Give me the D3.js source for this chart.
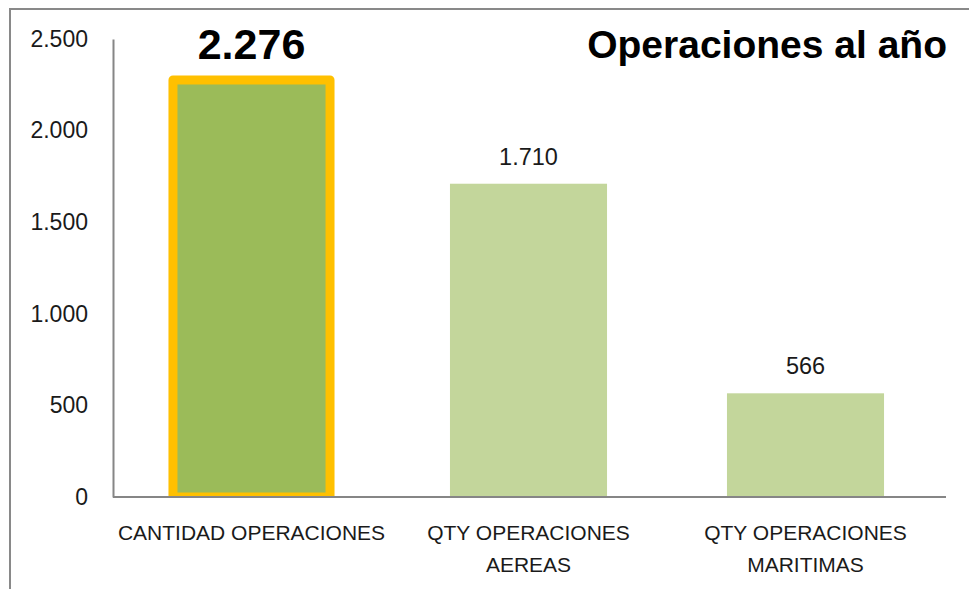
<!DOCTYPE html>
<html>
<head>
<meta charset="utf-8">
<script src="https://cdn.jsdelivr.net/npm/d3@7"></script>
<style>
  html, body { margin: 0; padding: 0; background: #ffffff; }
  svg { display: block; font-family: "Liberation Sans", Arial, sans-serif; }
</style>
</head>
<body>
<svg id="chart" width="969" height="589"></svg>
<script>
const categories = ["CANTIDAD OPERACIONES", "QTY OPERACIONES AEREAS", "QTY OPERACIONES MARITIMAS"];
const values = [2276, 1710, 566];
const highlighted = [true, false, false];
const yTicks = [0, 500, 1000, 1500, 2000, 2500];
const title = "Operaciones al año";

const fmt = v => d3.format(",")(v).replace(/,/g, ".");

const W = 969, H = 589;
const svg = d3.select("#chart");
const margin = { left: 113, right: 25, top: 39, bottom: 92 };
const plotBottom = H - margin.bottom; // 497

// outer frame
svg.append("rect")
  .attr("x", 10).attr("y", 9)
  .attr("width", W + 20).attr("height", H + 20)
  .attr("fill", "none").attr("stroke", "#898989").attr("stroke-width", 2);

const x = d3.scaleBand()
  .domain(categories)
  .range([margin.left, W - margin.right])
  .paddingInner(0.433)
  .paddingOuter(0.2165);

const y = d3.scaleLinear()
  .domain([0, 2500])
  .range([plotBottom, margin.top]);

// clip for bars
svg.append("clipPath").attr("id", "plotclip")
  .append("rect")
  .attr("x", margin.left).attr("y", 0)
  .attr("width", W - margin.left).attr("height", plotBottom);

const data = categories.map((c, i) => ({ c, v: values[i], hi: highlighted[i] }));

svg.append("g").attr("clip-path", "url(#plotclip)")
  .selectAll("rect").data(data).join("rect")
  .attr("x", d => x(d.c))
  .attr("y", d => y(d.v))
  .attr("width", x.bandwidth())
  .attr("height", d => y(0) - y(d.v))
  .attr("fill", d => d.hi ? "#9BBB59" : "#C3D69B")
  .attr("stroke", d => d.hi ? "#FFC000" : "none")
  .attr("stroke-width", d => d.hi ? 9 : 0)
  .attr("stroke-linejoin", "round");

// value labels
svg.append("g").selectAll("text").data(data).join("text")
  .attr("x", d => x(d.c) + x.bandwidth() / 2)
  .attr("y", d => d.hi ? y(d.v) - 21 : y(d.v) - 19)
  .attr("text-anchor", "middle")
  .attr("font-size", d => d.hi ? 43 : 23.5)
  .attr("font-weight", d => d.hi ? "bold" : "normal")
  .attr("fill", d => d.hi ? "#000000" : "#1a1a1a")
  .text(d => fmt(d.v));

// y axis
const yAxis = d3.axisLeft(y).tickValues(yTicks).tickFormat(fmt).tickSize(0).tickPadding(25);
const gy = svg.append("g").attr("transform", `translate(${margin.left},0)`).call(yAxis);
gy.select(".domain").attr("stroke", "#868686").attr("stroke-width", 2);
gy.selectAll("text").attr("font-size", 23).attr("fill", "#1a1a1a")
  .attr("font-family", '"Liberation Sans", Arial, sans-serif');

// x axis
const xAxis = d3.axisBottom(x).tickSize(0).tickPadding(0);
const gx = svg.append("g").attr("transform", `translate(0,${plotBottom})`).call(xAxis);
gx.select(".domain").attr("stroke", "#868686").attr("stroke-width", 2)
  .attr("d", `M${margin.left},0H${W - margin.right + 2}`);
gx.selectAll("text").attr("font-size", 21).attr("fill", "#1a1a1a")
  .attr("font-family", '"Liberation Sans", Arial, sans-serif')
  .attr("y", 43).attr("dy", null)
  .each(function(d) {
    const t = d3.select(this);
    const words = d.split(" ");
    t.text(null);
    const maxW = x.step() - 4;
    let line = [];
    let lineNo = 0;
    let tspan = t.append("tspan").attr("x", 0).attr("y", 43);
    for (const w of words) {
      line.push(w);
      tspan.text(line.join(" "));
      if (tspan.node().getComputedTextLength() > maxW && line.length > 1) {
        line.pop();
        tspan.text(line.join(" "));
        line = [w];
        lineNo++;
        tspan = t.append("tspan").attr("x", 0).attr("y", 43 + lineNo * 32).text(w);
      }
    }
  });

// title
svg.append("text")
  .attr("x", 947).attr("y", 58)
  .attr("text-anchor", "end")
  .attr("font-size", 39)
  .attr("font-weight", "bold")
  .attr("fill", "#000000")
  .text(title);
</script>
</body>
</html>
